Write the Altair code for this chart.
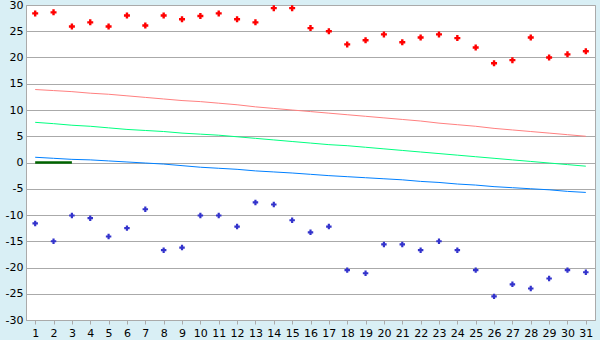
import altair as alt
import pandas as pd

days = list(range(1, 32))

max_t = [28.4, 28.6, 25.9, 26.7, 25.9, 28.0, 26.1, 28.0, 27.3, 27.9,
         28.4, 27.3, 26.7, 29.4, 29.4, 25.6, 25.0, 22.5, 23.3, 24.4,
         22.9, 23.8, 24.4, 23.7, 21.9, 18.9, 19.5, 23.8, 20.0, 20.6, 21.2]

min_t = [-11.6, -15.0, -10.1, -10.6, -14.1, -12.5, -8.9, -16.7, -16.2, -10.1,
         -10.1, -12.2, -7.6, -8.0, -11.0, -13.3, -12.2, -20.5, -21.1, -15.6,
         -15.6, -16.7, -15.0, -16.7, -20.5, -25.5, -23.2, -24.0, -22.1, -20.5, -20.9]

normal_max = [13.9, 13.7, 13.5, 13.2, 13.0, 12.7, 12.4, 12.1, 11.8, 11.6,
              11.3, 11.0, 10.6, 10.3, 10.0, 9.7, 9.4, 9.1, 8.8, 8.5,
              8.2, 7.9, 7.5, 7.2, 6.9, 6.5, 6.2, 5.9, 5.6, 5.3, 5.0]

normal_mean = [7.65, 7.4, 7.1, 6.9, 6.6, 6.3, 6.1, 5.9, 5.6, 5.4,
               5.2, 4.9, 4.6, 4.3, 4.0, 3.7, 3.4, 3.2, 2.9, 2.6,
               2.3, 2.0, 1.7, 1.4, 1.1, 0.8, 0.5, 0.2, -0.1, -0.4, -0.7]

normal_min = [1.0, 0.8, 0.6, 0.5, 0.3, 0.1, -0.1, -0.3, -0.6, -0.9,
              -1.1, -1.3, -1.6, -1.8, -2.0, -2.25, -2.5, -2.7, -2.9, -3.1,
              -3.3, -3.6, -3.8, -4.1, -4.3, -4.6, -4.8, -5.0, -5.2, -5.5, -5.7]

current_days = [1, 2, 3]
current_vals = [0.0, 0.0, 0.0]

df = pd.DataFrame({
    "day": days,
    "max": max_t,
    "min": min_t,
    "nmax": normal_max,
    "nmean": normal_mean,
    "nmin": normal_min,
})
cur = pd.DataFrame({"day": current_days, "val": current_vals})

FONT = "DejaVu Sans"

xenc = alt.X(
    "day:O",
    scale=alt.Scale(type="point", padding=0.5, domain=days),
    axis=alt.Axis(
        title=None, labelAngle=0, grid=False, tickSize=4, tickColor="#aaaaaa",
        domainColor="#aaaaaa", labelFont=FONT, labelFontSize=11, labelColor="#000000",
        labelPadding=3,
    ),
)


def yenc(field):
    return alt.Y(
        field,
        scale=alt.Scale(domain=[-30, 30], nice=False, zero=False),
        axis=alt.Axis(
            title=None, values=list(range(-30, 31, 5)), tickSize=0,
            grid=True, gridColor="#aaaaaa", gridWidth=1, gridOpacity=1,
            domainColor="#aaaaaa", labelFont=FONT, labelFontSize=11,
            labelColor="#000000", labelPadding=3,
            labelExpr="'' + datum.value",
        ),
    )


base = alt.Chart(df)

l_nmax = base.mark_line(color="#ff8080", strokeWidth=1).encode(x=xenc, y=yenc("nmax:Q"))
l_nmean = base.mark_line(color="#00ff80", strokeWidth=1).encode(x=xenc, y=yenc("nmean:Q"))
l_nmin = base.mark_line(color="#0080ff", strokeWidth=1).encode(x=xenc, y=yenc("nmin:Q"))
l_cur = alt.Chart(cur).mark_line(color="#006400", strokeWidth=2.5).encode(x=xenc, y=yenc("val:Q"))
p_max = base.mark_point(shape="cross", filled=True, size=36, color="#ff0000", opacity=1).encode(
    x=xenc, y=yenc("max:Q"))
p_min = base.mark_point(shape="cross", filled=True, size=30, color="#3333cc", opacity=1).encode(
    x=xenc, y=yenc("min:Q"))

chart = alt.layer(l_nmax, l_nmean, l_nmin, l_cur, p_max, p_min).properties(
    width=569,
    height=315,
    autosize=alt.AutoSizeParams(type="none"),
    padding={"left": 26, "top": 5, "right": 5, "bottom": 20},
    background="#d9eff5",
).configure_view(
    fill="#ffffff", stroke="#aaaaaa", strokeWidth=1,
)

chart.save("out.html", embed_options={"renderer": "svg", "actions": False})
